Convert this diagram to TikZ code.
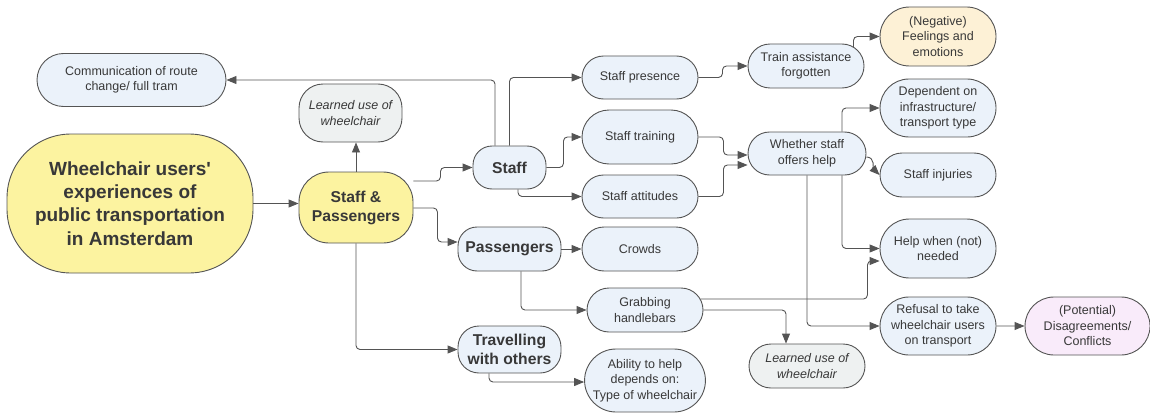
\documentclass[tikz,border=0pt]{standalone}
\usepackage{fontspec}
\setmainfont{Liberation Sans}[Ligatures=TeXOff]
\usetikzlibrary{arrows.meta, shapes.misc}

\definecolor{edgegray}{HTML}{545454}
\definecolor{textgray}{HTML}{383838}
\definecolor{paleblue}{HTML}{EBF2FA}
\definecolor{paleyellow}{HTML}{FCF3A0}
\definecolor{palegray}{HTML}{EEF1F1}
\definecolor{paleorange}{HTML}{FDF1D6}
\definecolor{palepink}{HTML}{F9EBFA}

\begin{document}
\begin{tikzpicture}[
    x=1pt, y=-1pt,
    >={Triangle[length=10pt, width=8pt]},
    topic/.style={rounded rectangle, draw=edgegray, line width=0.9pt, fill=paleblue,
      align=center, inner sep=0pt, text=textgray, font=\fontsize{12.5}{15.5}\selectfont},
    dims/.style 2 args={minimum width=#1pt, minimum height=#2pt},
    theme/.style={topic, rectangle, rounded corners=19pt, font=\fontsize{15.7}{19}\selectfont\bfseries},
    learned/.style={topic, fill=palegray, font=\fontsize{12.5}{15.5}\selectfont\itshape},
    link/.style={->, draw=edgegray, line width=0.9pt, rounded corners=4pt}
  ]
  \useasboundingbox (0,0) rectangle (1150,412);

  % Centre and the two groups below it
  \node[theme, fill=paleyellow, rounded corners=64pt, dims={246}{139},
        font=\fontsize{19}{23.4}\selectfont\bfseries] (main) at (130,203.5)
        {Wheelchair users'\\experiences of\\public transportation\\in Amsterdam};
  \node[theme, fill=paleyellow, rounded corners=30pt, dims={114}{71}] (sp) at (356,207.5) {Staff \&\\Passengers};
  \node[learned, rectangle, rounded corners=24pt, dims={103}{58}] (learnedtop) at (350.5,113) {Learned use of\\wheelchair};
  \node[topic, dims={189}{53}] (comm) at (131.5,80) {Communication of route\\change/ full tram};

  % Second column
  \node[theme, dims={73}{43}] (staff) at (509.5,167.5) {Staff};
  \node[theme, dims={103}{44}] (pass) at (509.5,249) {Passengers};
  \node[theme, rounded corners=21pt, dims={103}{47}] (travel) at (509.5,349.5) {Travelling\\with others};

  % Third column
  \node[topic, dims={116}{43}] (presence) at (640,77.5) {Staff presence};
  \node[topic, dims={116}{54}] (training) at (640,137) {Staff training};
  \node[topic, dims={116}{43}] (attitudes) at (640,196.5) {Staff attitudes};
  \node[topic, dims={116}{44}] (crowds) at (640,249) {Crowds};
  \node[topic, dims={116}{44}] (grab) at (645,310) {Grabbing\\handlebars};
  \node[topic, dims={116}{63}] (ability) at (645,380.5) {Ability to help\\depends on:\\Type of wheelchair};

  % Fourth column
  \node[topic, dims={116}{44}] (train) at (806,66) {Train assistance\\forgotten};
  \node[topic, dims={118}{43}] (whether) at (807,153.5) {Whether staff\\offers help};
  \node[learned, dims={116}{44}] (learnedlow) at (807,366) {Learned use of\\wheelchair};

  % Fifth column
  \node[topic, fill=paleorange, dims={116}{59}] (neg) at (938,36.5) {(Negative)\\Feelings and\\emotions};
  \node[topic, dims={116}{58}] (dep) at (938,108) {Dependent on\\infrastructure/\\transport type};
  \node[topic, dims={116}{44}] (injuries) at (938,175) {Staff injuries};
  \node[topic, dims={116}{59}] (help) at (938,248.5) {Help when (not)\\needed};
  \node[topic, dims={116}{58}] (refusal) at (938,326) {Refusal to take\\wheelchair users\\on transport};
  \node[topic, fill=palepink, dims={125}{58}] (conflict) at (1087.5,326) {(Potential)\\Disagreements/\\Conflicts};

  % Links from the centre
  \draw[link] (main.east) -- (main.east -| sp.west);
  \draw[link] (sp.north) -- (sp.north |- learnedtop.south);
  \draw[link] (sp.east |- 0,181) -- ++(27,0) |- (staff.west);
  \draw[link] (sp.east |- 0,208) -- ++(24,0) |- (pass.west |- 0,242);
  \draw[link] (sp.south) |- (travel.west);

  % Staff
  \draw[link] (staff.north -| 495,0) |- (comm.east);
  \draw[link] (staff.north) |- (presence.west);
  \draw[link] (staff.east) -- ++(17,0) |- (training.west);
  \draw[link] (staff.south -| 518,0) |- (attitudes.west);
  \draw[link] (presence.east) -- ++(24,0) |- (train.west);
  \draw[link] ([shift={(-11,-19)}]train.east) |- (neg.west);
  \draw[link] (training.east) -- ++(25,0) |- (whether.west |- 0,155);
  \draw[link] (attitudes.east) -- ++(25,0) |- (whether.west |- 0,165);

  % Whether staff offers help
  \draw[link] (whether.north -| 842,0) |- (dep.west);
  \draw[link] (whether.east |- 0,157) to[out=0, in=135] (injuries.west);
  \draw[link] (whether.south -| 842,0) |- (help.west);
  \draw[link] (whether.south) |- (refusal.west);
  \draw[link] (refusal) -- (conflict);

  % Passengers and travelling
  \draw[link] (pass) -- (crowds);
  \draw[link] (pass.south -| 521,0) |- (grab.west);
  \draw[link] ([shift={(-3,-11)}]grab.east) -- ++(167,0) |- (help.west |- 0,261);
  \draw[link] (grab.east) -| ([xshift=-21pt]learnedlow.north);
  \draw[link] (travel.south -| 489,0) |- (ability.west |- 0,382);

\end{tikzpicture}
\end{document}
